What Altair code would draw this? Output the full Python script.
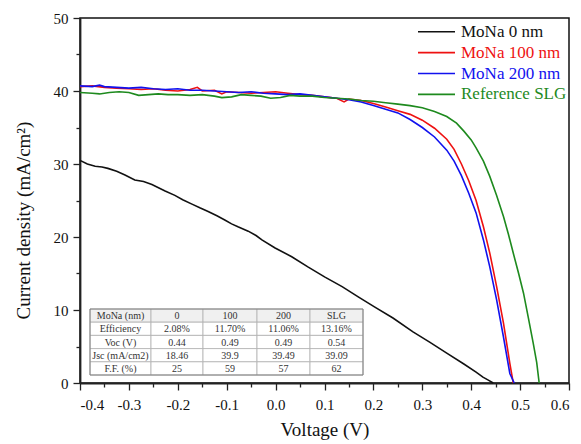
import altair as alt
import pandas as pd

# ---------------- data ----------------
series_names = ["MoNa 0 nm", "MoNa 100 nm", "MoNa 200 nm", "Reference SLG"]
series_colors = ["#111111", "#ee1111", "#1111ee", "#1e8a1e"]

v_0nm = [-0.40, -0.385, -0.369, -0.355, -0.343, -0.325, -0.308, -0.288, -0.27, -0.253,
         -0.226, -0.206, -0.19, -0.171, -0.155, -0.138, -0.12, -0.103, -0.09, -0.077,
         -0.056, -0.04, -0.028, -0.001, 0.033, 0.066, 0.101, 0.136, 0.169, 0.203,
         0.24, 0.281, 0.315, 0.35, 0.385, 0.41, 0.424, 0.435, 0.445]
j_0nm = [30.5, 30.0, 29.7, 29.6, 29.4, 29.0, 28.5, 27.8, 27.6, 27.2,
         26.3, 25.7, 25.1, 24.5, 24.0, 23.5, 22.9, 22.3, 21.8, 21.4,
         20.8, 20.2, 19.6, 18.5, 17.3, 15.9, 14.5, 13.2, 11.8, 10.4,
         8.9, 7.0, 5.6, 4.1, 2.6, 1.5, 0.8, 0.4, 0.0]

v_100nm = [-0.40, -0.375, -0.35, -0.325, -0.30, -0.275, -0.25, -0.225, -0.20, -0.175,
           -0.16, -0.15, -0.125, -0.11, -0.10, -0.075, -0.05, -0.025, 0.0, 0.025,
           0.05, 0.075, 0.10, 0.125, 0.14, 0.15, 0.175, 0.20, 0.225, 0.25,
           0.275, 0.30, 0.325, 0.35, 0.365, 0.38, 0.395, 0.41, 0.425, 0.438,
           0.452, 0.466, 0.479, 0.486]
j_100nm = [40.6, 40.7, 40.5, 40.4, 40.3, 40.2, 40.3, 40.1, 40.0, 40.2,
           40.5, 40.0, 40.1, 39.6, 39.9, 39.8, 39.7, 39.8, 39.9, 39.7,
           39.5, 39.4, 39.2, 39.0, 38.5, 38.9, 38.7, 38.3, 37.8, 37.3,
           36.8, 36.0, 34.9, 33.4, 32.0, 30.0, 27.7, 25.0, 21.4, 17.8,
           13.2, 8.2, 2.7, 0.0]

v_200nm = [-0.40, -0.375, -0.36, -0.35, -0.325, -0.30, -0.275, -0.25, -0.225, -0.20,
           -0.175, -0.15, -0.125, -0.10, -0.075, -0.05, -0.025, 0.0, 0.025, 0.05,
           0.075, 0.10, 0.125, 0.15, 0.175, 0.20, 0.225, 0.25, 0.275, 0.30,
           0.325, 0.35, 0.365, 0.38, 0.395, 0.41, 0.425, 0.438, 0.452, 0.466,
           0.479, 0.488]
j_200nm = [40.7, 40.6, 40.8, 40.6, 40.5, 40.4, 40.5, 40.3, 40.2, 40.3,
           40.1, 40.1, 40.0, 39.9, 39.8, 39.9, 39.7, 39.6, 39.5, 39.6,
           39.4, 39.2, 39.0, 38.8, 38.5, 38.0, 37.5, 37.0, 36.1, 35.0,
           33.7, 31.9, 30.4, 28.4, 26.0, 23.3, 19.6, 15.9, 11.4, 6.3,
           1.3, 0.0]

v_slg = [-0.40, -0.375, -0.36, -0.34, -0.32, -0.30, -0.28, -0.26, -0.24, -0.22,
         -0.20, -0.175, -0.15, -0.125, -0.11, -0.09, -0.07, -0.05, -0.03, -0.01,
         0.01, 0.03, 0.05, 0.075, 0.10, 0.125, 0.15, 0.175, 0.20, 0.225,
         0.25, 0.275, 0.30, 0.325, 0.35, 0.37, 0.385, 0.40, 0.41, 0.425,
         0.438, 0.452, 0.466, 0.476, 0.486, 0.497, 0.507, 0.517, 0.527, 0.534,
         0.539]
j_slg = [39.8, 39.7, 39.6, 39.8, 39.9, 39.8, 39.4, 39.5, 39.6, 39.5,
         39.5, 39.4, 39.5, 39.3, 39.1, 39.2, 39.5, 39.4, 39.3, 39.0,
         39.1, 39.4, 39.3, 39.3, 39.1, 39.0, 38.9, 38.7, 38.6, 38.4,
         38.2, 38.0, 37.7, 37.2, 36.5, 35.6, 34.5, 33.3, 32.2, 30.4,
         28.3, 25.7, 22.8, 20.4, 17.8, 15.0, 12.3, 8.9, 5.4, 2.8,
         0.0]

x_ticks = [-0.4, -0.35, -0.3, -0.25, -0.2, -0.15, -0.1, -0.05, 0.0, 0.05, 0.1,
           0.15, 0.2, 0.25, 0.3, 0.35, 0.4, 0.45, 0.5, 0.55, 0.6]
y_ticks = [0, 5, 10, 15, 20, 25, 30, 35, 40, 45, 50]

table_header = ["MoNa (nm)", "0", "100", "200", "SLG"]
table_row_labels = ["Efficiency", "Voc (V)", "Jsc (mA/cm2)", "F.F. (%)"]
table_efficiency = ["2.08%", "11.70%", "11.06%", "13.16%"]
table_voc = ["0.44", "0.49", "0.49", "0.54"]
table_jsc = ["18.46", "39.9", "39.49", "39.09"]
table_ff = ["25", "59", "57", "62"]

# ---------------- build tables ----------------
rows = []
for name, vs, js in zip(series_names,
                        [v_0nm, v_100nm, v_200nm, v_slg],
                        [j_0nm, j_100nm, j_200nm, j_slg]):
    for i, (v, j) in enumerate(zip(vs, js)):
        rows.append({"series": name, "V": v, "J": j, "idx": i})
df_lines = pd.DataFrame(rows)

FONT = "Liberation Serif"

# table geometry (pixels within plot area)
col_edges = [10, 71, 123, 177, 230, 283]
row_top, row_h = 291, 13.2
table_rows = [table_header] + [
    [lab] + vals for lab, vals in zip(
        table_row_labels, [table_efficiency, table_voc, table_jsc, table_ff])]
cells = []
for r, row in enumerate(table_rows):
    for c, txt in enumerate(row):
        cells.append({
            "x0": col_edges[c], "x1": col_edges[c + 1],
            "y0": row_top + r * row_h, "y1": row_top + (r + 1) * row_h,
            "xc": (col_edges[c] + col_edges[c + 1]) / 2,
            "yc": row_top + (r + 0.5) * row_h + 0.5,
            "txt": txt,
            "fill": "#f0f0f0" if r == 0 else "#ffffff",
        })
df_cells = pd.DataFrame(cells)
df_frame = pd.DataFrame([{"x0": col_edges[0], "x1": col_edges[-1],
                          "y0": row_top, "y1": row_top + len(table_rows) * row_h}])

df_leg = pd.DataFrame({"series": series_names, "color": series_colors,
                       "k": list(range(len(series_names)))})

# ---------------- chart ----------------
major_x = "abs(round(datum.value*100)) % 10 == 0"
major_y = "datum.value % 10 == 0"

x_enc = alt.X("V:Q", title="Voltage (V)",
              scale=alt.Scale(domain=[-0.4, 0.6], nice=False, zero=False),
              axis=alt.Axis(values=x_ticks, grid=False,
                            labelExpr="(" + major_x + ") ? ((datum.value < -0.001 ? '-' : '') + format(abs(datum.value), '.1f')) : ''",
                            tickSize={"condition": {"test": major_x, "value": 7}, "value": 4},
                            labelPadding=7, titlePadding=8))
y_enc = alt.Y("J:Q", title="Current density (mA/cm²)",
              scale=alt.Scale(domain=[0, 50], nice=False),
              axis=alt.Axis(values=y_ticks, grid=False,
                            labelExpr="(" + major_y + ") ? datum.label : ''",
                            tickSize={"condition": {"test": major_y, "value": 7}, "value": 4},
                            labelPadding=5, titlePadding=20, titleY=202))

lines = alt.Chart(df_lines).mark_line(strokeWidth=1.6).encode(
    x=x_enc, y=y_enc,
    color=alt.Color("series:N", scale=alt.Scale(domain=series_names, range=series_colors), legend=None),
    order="idx:Q",
)

cell_rects = alt.Chart(df_cells).mark_rect(stroke="#b0b0b0", strokeWidth=0.8).encode(
    x=alt.X("x0:Q", scale=None, axis=None), x2="x1:Q",
    y=alt.Y("y0:Q", scale=None, axis=None), y2="y1:Q",
    fill=alt.Fill("fill:N", scale=None),
)
frame_rect = alt.Chart(df_frame).mark_rect(fill=None, stroke="#808080", strokeWidth=1).encode(
    x=alt.X("x0:Q", scale=None, axis=None), x2="x1:Q",
    y=alt.Y("y0:Q", scale=None, axis=None), y2="y1:Q",
)
cell_text = alt.Chart(df_cells).mark_text(font=FONT, fontSize=10, color="#333333",
                                          align="center", baseline="middle").encode(
    x=alt.X("xc:Q", scale=None, axis=None),
    y=alt.Y("yc:Q", scale=None, axis=None),
    text="txt:N",
)

leg_base = alt.Chart(df_leg).transform_calculate(
    ly="13.7 + 20.9 * datum.k", ty="18.7 + 20.9 * datum.k")
leg_lines = leg_base.mark_rule(strokeWidth=1.6).encode(
    x=alt.value(338), x2=alt.value(375),
    y=alt.Y("ly:Q", scale=None, axis=None),
    color=alt.Color("color:N", scale=None),
)
leg_text = leg_base.mark_text(font=FONT, fontSize=17, align="left",
                              baseline="alphabetic").encode(
    x=alt.value(381),
    y=alt.Y("ty:Q", scale=None, axis=None),
    text="series:N",
    color=alt.Color("color:N", scale=None),
)

chart = alt.layer(lines, cell_rects, frame_rect, cell_text, leg_lines, leg_text).properties(
    width=489, height=365,
    autosize=alt.AutoSizeParams(type="none"),
    padding={"left": 72, "top": 10, "right": 4, "bottom": 61},
    background="white",
).configure_view(
    stroke="#111111", strokeWidth=1.5,
).configure_axis(
    labelFont=FONT, titleFont=FONT, labelFontSize=15, titleFontSize=19,
    labelColor="#111111", titleColor="#111111", titleFontWeight="normal",
    domainColor="#222222", domainWidth=1.8, tickColor="#222222", tickWidth=1.3,
)

chart.save("out.html", embed_options={"renderer": "svg", "actions": False})
